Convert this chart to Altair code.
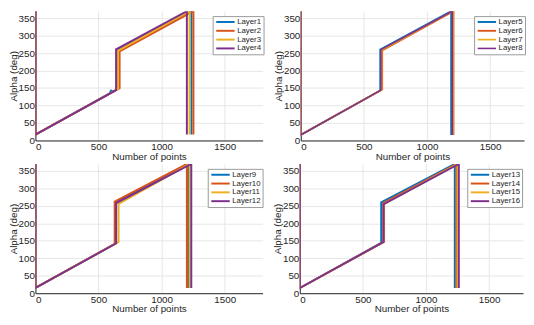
import altair as alt
import pandas as pd

COLORS = ["#0072BD", "#D95319", "#EDB120", "#7E2F8E"]

# ---------- panel 1 ----------
p1_names = ["Layer1", "Layer2", "Layer3", "Layer4"]
p1_widths = [2, 2, 2, 2]
p1_x = [
    [0, 0, 585, 600, 615, 647, 647, 1236, 1236],
    [0, 0, 667, 667, 1252, 1252],
    [0, 0, 655, 655, 1221, 1221],
    [0, 0, 639, 639, 1200, 1200],
]
p1_y = [
    [370, 17, 134, 143, 140, 146, 259, 370, 17],
    [370, 17, 150, 255, 370, 17],
    [370, 17, 148, 257, 370, 17],
    [370, 17, 144, 261, 370, 17],
]

# ---------- panel 2 ----------
p2_names = ["Layer5", "Layer6", "Layer7", "Layer8"]
p2_widths = [2, 1.6, 1.6, 2]
p2_x = [
    [0, 0, 630, 630, 1192, 1192],
    [0, 0, 645, 645, 1210, 1210],
    [0, 0, 640, 640, 1204, 1204],
    [0, 0, 635, 635, 1200, 1200],
]
p2_y = [
    [370, 16, 143, 260, 370, 16],
    [370, 16, 146, 258, 370, 16],
    [370, 16, 145, 259, 370, 16],
    [370, 16, 144, 260, 370, 16],
]

# ---------- panel 3 ----------
p3_names = ["Layer9", "Layer10", "Layer11", "Layer12"]
p3_widths = [2, 2, 1, 1]
p3_x = [
    [0, 0, 635, 635, 1210, 1210],
    [0, 0, 628, 628, 1200, 1200],
    [0, 0, 659, 659, 1222, 1222],
    [0, 0, 640, 640, 1235, 1235],
]
p3_y = [
    [370, 15, 142, 259, 370, 15],
    [370, 15, 141, 262, 370, 15],
    [370, 15, 147, 256, 370, 15],
    [370, 15, 143, 258, 370, 15],
]

# ---------- panel 4 ----------
p4_names = ["Layer13", "Layer14", "Layer15", "Layer16"]
p4_widths = [2, 2, 1, 1]
p4_x = [
    [0, 0, 645, 645, 1228, 1228],
    [0, 0, 660, 660, 1241, 1241],
    [0, 0, 668, 668, 1250, 1250],
    [0, 0, 665, 665, 1260, 1260],
]
p4_y = [
    [370, 15, 144, 260, 370, 15],
    [370, 15, 146, 258, 370, 15],
    [370, 15, 147, 256, 370, 15],
    [370, 15, 147, 255, 370, 15],
]

x_ticks = [0, 500, 1000, 1500]
y_ticks = [0, 50, 100, 150, 200, 250, 300, 350]


def make_df(names, xs, ys):
    rows = []
    for name, xl, yl in zip(names, xs, ys):
        for i, (xv, yv) in enumerate(zip(xl, yl)):
            rows.append({"layer": name, "idx": i, "x": xv, "y": yv})
    return pd.DataFrame(rows)


def panel(names, widths, xs, ys, xmax, width, lx):
    df = make_df(names, xs, ys)
    leg = dict(
        orient="none", legendX=lx, legendY=5, title=None,
        fillColor="white", strokeColor="#9a9a9a", padding=2,
        labelFontSize=8, labelFont="Liberation Sans", labelColor="#262626",
        symbolType="M-1,0H7", symbolSize=22, rowPadding=1, labelOffset=15,
        symbolFillColor="transparent", labelLimit=60,
    )
    return alt.Chart(df).mark_line(clip=True).encode(
        x=alt.X("x:Q", scale=alt.Scale(domain=[0, xmax], nice=False, zero=False),
                axis=alt.Axis(values=x_ticks, format="d", title="Number of points")),
        y=alt.Y("y:Q", scale=alt.Scale(domain=[0, 370], nice=False),
                axis=alt.Axis(values=y_ticks, format="d", title="Alpha (deg)")),
        color=alt.Color("layer:N", scale=alt.Scale(domain=names, range=COLORS),
                        legend=alt.Legend(**leg)),
        strokeWidth=alt.StrokeWidth("layer:N", scale=alt.Scale(domain=names, range=widths),
                                    legend=alt.Legend(**leg)),
        order=alt.Order("idx:Q"),
    ).properties(width=width, height=132)


c1 = panel(p1_names, p1_widths, p1_x, p1_y, 1800, 232, 181)
c2 = panel(p2_names, p2_widths, p2_x, p2_y, 1769, 228, 177)
c3 = panel(p3_names, p3_widths, p3_x, p3_y, 1800, 232, 176)
c4 = panel(p4_names, p4_widths, p4_x, p4_y, 1769, 228, 171)

top = alt.hconcat(c1, c2, spacing=9).resolve_scale(
    color="independent", strokeWidth="independent")
bottom = alt.hconcat(c3, c4, spacing=9).resolve_scale(
    color="independent", strokeWidth="independent")

chart = alt.vconcat(top, bottom, spacing=3).resolve_scale(
    color="independent", strokeWidth="independent"
).properties(padding=0).configure_view(stroke=None).configure_axis(
    labelFont="Liberation Sans", labelFontSize=10, labelColor="#262626",
    titleFont="Liberation Sans", titleFontSize=10, titleFontWeight="normal",
    titleColor="#262626", gridColor="#e6e6e6", domainColor="#262626",
    ticks=False, labelPadding=1, titlePadding=0,
)

chart.save("out.html", embed_options={"renderer": "svg", "actions": False})
